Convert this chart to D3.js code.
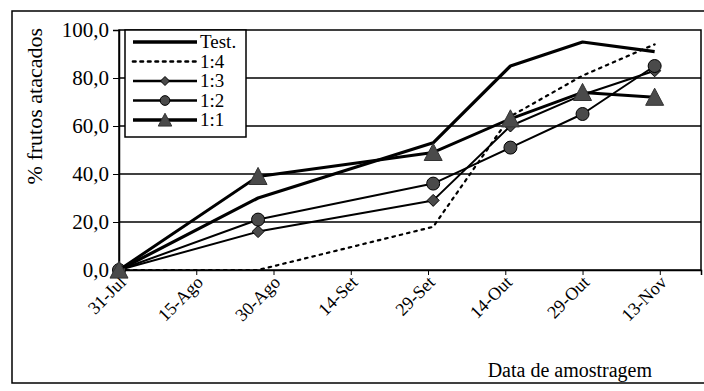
<!DOCTYPE html>
<html><head><meta charset="utf-8">
<script src="https://cdn.jsdelivr.net/npm/d3@7"></script>
<style>body{margin:0;background:#fff;} svg{display:block;}</style>
</head><body>
<script>
const sampleDates = ["2001-07-31","2001-08-27","2001-09-30","2001-10-15","2001-10-29","2001-11-12"];
const seriesNames = ["Test.","1:4","1:3","1:2","1:1"];
const testVals = [0,30,53,85,95,91];
const r14Vals = [0,0,18,64,81,94];
const r13Vals = [0,16,29,60,73,83];
const r12Vals = [0,21,36,51,65,85];
const r11Vals = [0,39,49,63,74,72];
const yTickVals = [0,20,40,60,80,100];
const xTickDates = ["2001-07-31","2001-08-15","2001-08-30","2001-09-14","2001-09-29","2001-10-14","2001-10-29","2001-11-13"];
const xTickLabels = ["31-Jul","15-Ago","30-Ago","14-Set","29-Set","14-Out","29-Out","13-Nov"];

const W=704,H=391;
const svg=d3.select("body").append("svg").attr("width",W).attr("height",H);
const font="Liberation Serif, Times New Roman, serif";
const parse=d3.timeParse("%Y-%m-%d");

// outer chart border
svg.append("rect").attr("x",12).attr("y",11).attr("width",W+20).attr("height",372)
  .attr("fill","none").attr("stroke","#000").attr("stroke-width",1.5);

const L=119,R=701,T=30,B=270;
const x=d3.scaleTime().domain([parse("2001-07-31"),parse("2001-11-21")]).range([L,R]);
const y=d3.scaleLinear().domain([0,100]).range([B,T]);

// gridlines
svg.append("g").selectAll("line").data(yTickVals.filter(v=>v>0&&v<100)).join("line")
  .attr("x1",L).attr("x2",R).attr("y1",d=>y(d)).attr("y2",d=>y(d))
  .attr("stroke","#000").attr("stroke-width",1.3);
// plot border
svg.append("rect").attr("x",L).attr("y",T).attr("width",R-L).attr("height",B-T)
  .attr("fill","none").attr("stroke","#000").attr("stroke-width",1.5);

// y axis
const yAx=svg.append("g").attr("transform",`translate(${L},0)`)
  .call(d3.axisLeft(y).tickValues(yTickVals).tickSize(6).tickPadding(4)
    .tickFormat(d=>d3.format(".1f")(d).replace(".",",")));
yAx.select(".domain").attr("stroke-width",1.5);
yAx.selectAll("text").style("font-family",font).style("font-size","21px").attr("fill","#000");

// x axis
const xAx=svg.append("g").attr("transform",`translate(0,${B})`)
  .call(d3.axisBottom(x).tickValues(xTickDates.map(parse)).tickSize(5)
    .tickFormat((d,i)=>xTickLabels[i]));
xAx.select(".domain").attr("stroke-width",1.5);
xAx.selectAll("text").style("font-family",font).style("font-size","18px").attr("fill","#000")
  .attr("text-anchor","end").attr("y",0).attr("dy","0.35em").attr("dx",0)
  .attr("transform","translate(3,9) rotate(-45)");

// titles
svg.append("text").attr("transform","translate(42,28) rotate(-90)")
  .attr("text-anchor","end").style("font-family",font).style("font-size","22px")
  .text("% frutos atacados");
svg.append("text").attr("x",652).attr("y",377).attr("text-anchor","end")
  .style("font-family",font).style("font-size","20px").text("Data de amostragem");

const series=[
  {name:seriesNames[0],vals:testVals,w:3.2,dash:null,marker:null},
  {name:seriesNames[1],vals:r14Vals,w:2.2,dash:"2.5,5",marker:null},
  {name:seriesNames[2],vals:r13Vals,w:2,dash:null,marker:"diamond"},
  {name:seriesNames[3],vals:r12Vals,w:2,dash:null,marker:"circle"},
  {name:seriesNames[4],vals:r11Vals,w:3,dash:null,marker:"triangle"}
];
const line=d3.line().x(d=>x(d.d)).y(d=>y(d.v));
const mcol="#4a4a4a";
function drawMarker(g,type,cx,cy,k){
  k=k||1;
  if(type==="circle"){
    g.append("circle").attr("cx",cx).attr("cy",cy).attr("r",6.5*k).attr("fill",mcol).attr("stroke","#000").attr("stroke-width",1);
  } else if(type==="diamond"){
    const s=6*k;
    g.append("path").attr("d",`M${cx},${cy-s}L${cx+s},${cy}L${cx},${cy+s}L${cx-s},${cy}Z`)
      .attr("fill",mcol).attr("stroke","#000").attr("stroke-width",1);
  } else if(type==="triangle"){
    const s=9*k;
    g.append("path").attr("d",`M${cx},${cy-s}L${cx+s},${cy+s*0.9}L${cx-s},${cy+s*0.9}Z`)
      .attr("fill",mcol).attr("stroke","#333").attr("stroke-width",1);
  }
}
series.forEach(s=>{
  const pts=s.vals.map((v,i)=>({d:parse(sampleDates[i]),v}));
  const g=svg.append("g");
  g.append("path").datum(pts).attr("d",line).attr("fill","none").attr("stroke","#000")
    .attr("stroke-width",s.w).attr("stroke-dasharray",s.dash).attr("stroke-linejoin","round")
    .attr("stroke-linecap",s.dash?"round":"butt");
  if(s.marker) pts.forEach(p=>drawMarker(g,s.marker,x(p.d),y(p.v)));
});

// legend
const lg=svg.append("g");
lg.append("rect").attr("x",125).attr("y",30).attr("width",121).attr("height",107)
  .attr("fill","#fff").attr("stroke","#000").attr("stroke-width",1.5);
series.forEach((s,i)=>{
  const ly=42+i*19.5;
  lg.append("line").attr("x1",133).attr("x2",197).attr("y1",ly).attr("y2",ly)
    .attr("stroke","#000").attr("stroke-width",s.w+0.5).attr("stroke-dasharray",s.dash)
    .attr("stroke-linecap",s.dash?"round":"butt");
  if(s.marker) drawMarker(lg,s.marker,165,ly,0.75);
  lg.append("text").attr("x",200).attr("y",ly+6).style("font-family",font)
    .style("font-size","19px").text(s.name);
});
</script>
</body></html>
